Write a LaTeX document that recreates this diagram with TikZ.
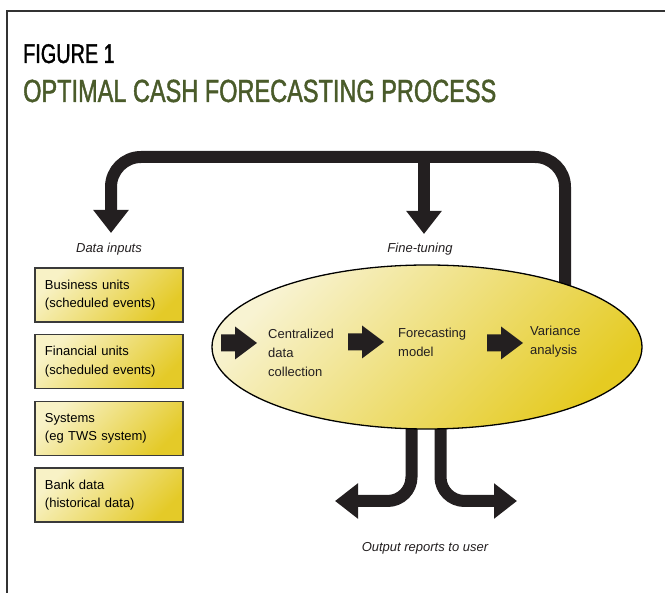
\documentclass[tikz,border=0pt]{standalone}
\usepackage{fontspec}
\setmainfont{Liberation Sans}
\newfontfamily\condfont[FakeStretch=0.735, FakeBold=1.3]{Liberation Sans}
\usetikzlibrary{shapes.geometric,arrows.meta}

\definecolor{bandcol}{HTML}{231F20}
\definecolor{framecol}{HTML}{333333}
\definecolor{titlegreen}{HTML}{4A5B2A}
\definecolor{boxline}{HTML}{3A3A3A}
\definecolor{boxlight}{HTML}{F8F2C6}
\definecolor{boxdark}{HTML}{E4CA28}
\definecolor{elllight}{HTML}{F8F3D2}
\definecolor{elldark}{HTML}{E5CB22}

\tikzset{
  frameline/.style={draw=framecol, line width=1.5pt},
  band/.style={draw=bandcol, line width=12pt},
  bigtip/.style={-{Triangle[width=34pt,length=23pt]}},
  inbox/.style={draw=boxline, line width=1.3pt, rectangle,
    minimum width=148pt, minimum height=54pt, text width=128pt,
    inner xsep=10pt, inner ysep=0pt, align=left,
    font=\fontsize{13}{18.5}\selectfont,
    left color=boxlight, right color=boxdark, shading angle=45},
  stage/.style={anchor=north west, inner sep=0pt, align=left,
    font=\fontsize{13}{19}\selectfont, text=bandcol},
  caption/.style={anchor=base, inner sep=0pt,
    font=\fontsize{13}{16}\selectfont\itshape, text=bandcol},
  blockarrow/.pic={
    \fill[bandcol] (0,-8.5) -- (14,-8.5) -- (14,-16.5) -- (36,0)
      -- (14,16.5) -- (14,8.5) -- (0,8.5) -- cycle;
  }
}

\begin{document}
\begin{tikzpicture}[x=1pt, y=-1pt]
  \useasboundingbox (0,0) rectangle (665,593);

  % frame (top and left rules)
  \coordinate (fbl) at (7,593);
  \coordinate (ftl) at (7,11);
  \coordinate (ftr) at (665,11);
  \draw[frameline] (fbl) -- (ftl) -- (ftr);

  % headings
  \node[anchor=base west, inner sep=0pt, text=black,
        font=\condfont\fontsize{27}{30}\selectfont] (fig) at (23,63) {FIGURE 1};
  \node[anchor=base west, inner sep=0pt, text=titlegreen,
        font=\condfont\fontsize{32}{34}\selectfont] (title) at (23,102)
        {OPTIMAL CASH FORECASTING PROCESS};

  % captions
  \node[caption] (datain) at (109,253) {Data inputs};
  \node[caption] (fine) at (420,253) {Fine-tuning};
  \node[caption] (outrep) at (425,552) {Output reports to user};

  % data input boxes
  \node[inbox] (bu) at (109,295) {Business units\\(scheduled events)};
  \node[inbox] (fu) at (109,361.5) {Financial units\\(scheduled events)};
  \node[inbox] (sy) at (109,428.5) {Systems\\(eg TWS system)};
  \node[inbox] (bd) at (109,495) {Bank data\\(historical data)};

  % feedback loop and output branches (behind the ellipse)
  \coordinate (loopstart) at (565,310);
  \coordinate (loopR) at (565,157);
  \coordinate (loopL) at (111,157);
  \coordinate (loopM) at (424,157);
  \coordinate (inTip) at (111,233);
  \coordinate (fineTip) at (424,234);
  \draw[band, bigtip, rounded corners=30pt] (loopstart) -- (loopR) -- (loopL) -- (inTip);
  \draw[band, bigtip] (loopM) -- (fineTip);

  \coordinate (outL0) at (411.5,400);
  \coordinate (outL1) at (411.5,501);
  \coordinate (outLtip) at (335,501);
  \coordinate (outR0) at (440.5,400);
  \coordinate (outR1) at (440.5,501);
  \coordinate (outRtip) at (517,501);
  \draw[band, bigtip, rounded corners=24pt] (outL0) -- (outL1) -- (outLtip);
  \draw[band, bigtip, rounded corners=24pt] (outR0) -- (outR1) -- (outRtip);

  % forecasting engine
  \node[ellipse, draw=black, line width=1.3pt,
        minimum width=430pt, minimum height=164pt,
        left color=elllight, right color=elldark, shading angle=45]
        (engine) at (427,347) {};

  \pic (a1) at (221,343) {blockarrow};
  \node[stage] (collect) at (268,328.5) {Centralized\\data\\collection};
  \pic (a2) at (348,342) {blockarrow};
  \node[stage] (model) at (398,327.5) {Forecasting\\model};
  \pic (a3) at (487,343) {blockarrow};
  \node[stage] (variance) at (530,325.5) {Variance\\analysis};
\end{tikzpicture}
\end{document}
